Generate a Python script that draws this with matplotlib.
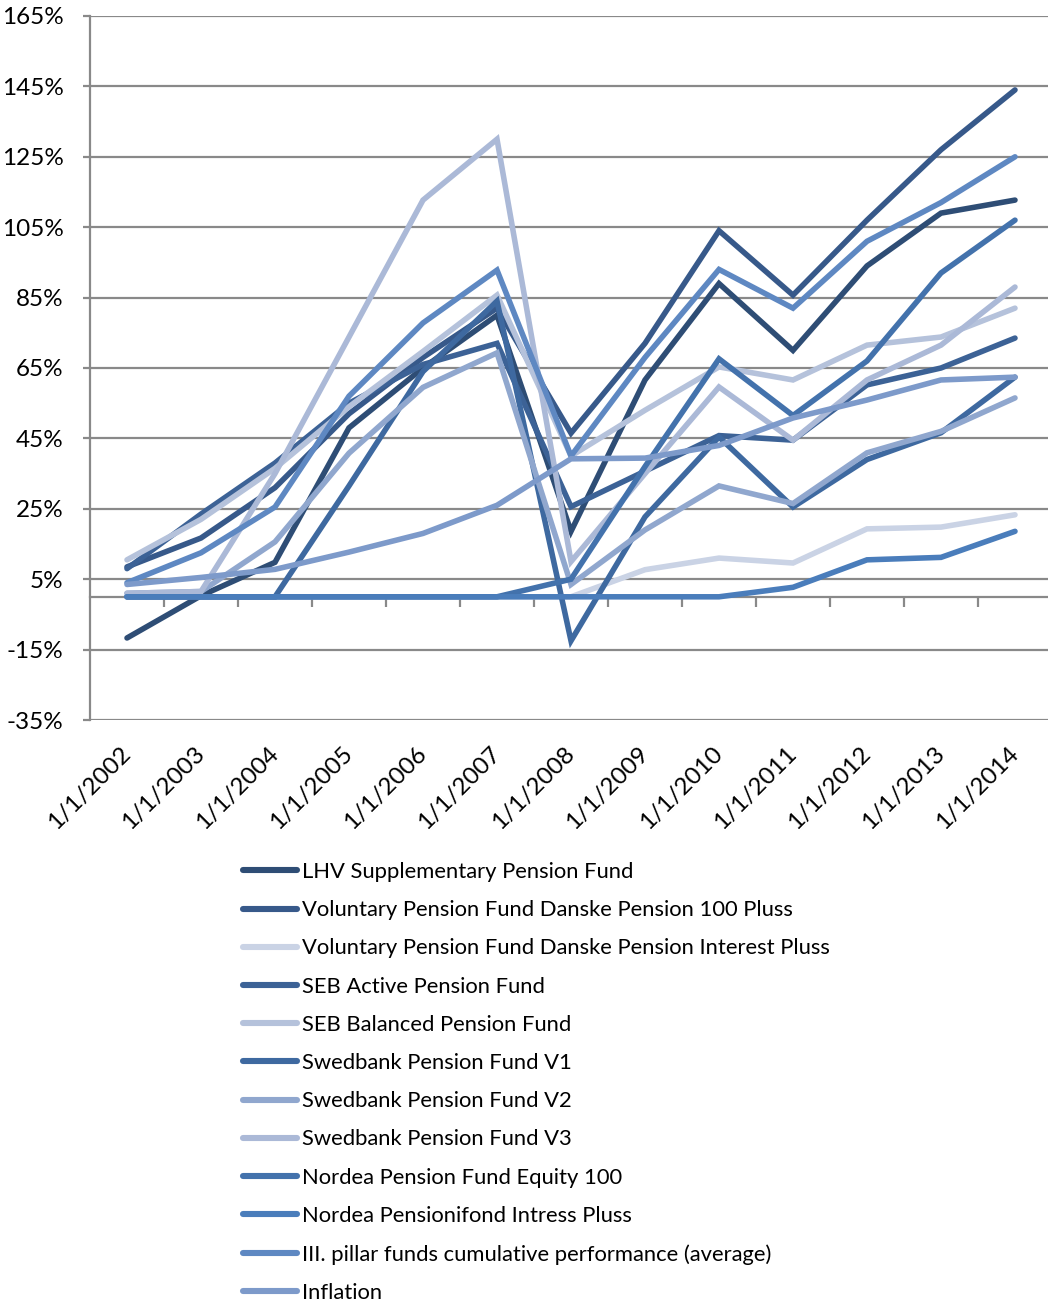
import matplotlib
matplotlib.use("Agg")
import matplotlib.pyplot as plt
from matplotlib.lines import Line2D

plt.rcParams['font.family'] = ['Lato', 'DejaVu Sans']

# Kategorien (Jahre)
jahre = ["1/1/2002", "1/1/2003", "1/1/2004", "1/1/2005", "1/1/2006", "1/1/2007", "1/1/2008",
         "1/1/2009", "1/1/2010", "1/1/2011", "1/1/2012", "1/1/2013", "1/1/2014"]

# Werte in Prozent
lhv = [-11.7, 0.3, 9.8, 48, 65, 80, 18.6, 61.6, 89, 70, 94, 109, 112.7]
danske_100 = [8.5, 16.7, 31, 52, 68, 82, 46.5, 72, 104, 85.7, 107, 127, 144]
danske_interest = [0, 0, 0, 0, 0, 0, 0, 7.7, 11, 9.6, 19.3, 19.8, 23.3]
seb_active = [8, 23.5, 38, 55, 66, 72, 25.6, 35.7, 45.8, 44.5, 60.2, 65, 73.5]
seb_balanced = [10.5, 22, 36.5, 54, 69.7, 85.7, 40, 53, 65.3, 61.6, 71.5, 73.8, 82]
swed_v1 = [0, 0, 0, 31.5, 64, 84, -12.5, 22.7, 45.4, 25.5, 39, 46.6, 62.4]
swed_v2 = [1, 1.5, 15.6, 40.8, 59.5, 69.3, 3.5, 19, 31.5, 26.5, 40.9, 47, 56.5]
swed_v3 = [1, 1.5, 35, 73.8, 112.7, 130, 10, 35, 59.6, 44.5, 61.6, 71.5, 88]
nordea_equity = [0, 0, 0, 0, 0, 0, 5, 37, 67.6, 51.5, 67, 92, 107]
nordea_intress = [0, 0, 0, 0, 0, 0, 0, 0, 0, 2.7, 10.5, 11.2, 18.6]
durchschnitt = [4, 12.5, 25.5, 57, 77.8, 92.8, 40, 68, 93, 82, 101, 112, 125]
inflation = [3.5, 5.5, 7.8, 12.7, 18, 26, 39.2, 39.4, 43, 50.8, 55.9, 61.6, 62.4]

namen = ["LHV Supplementary Pension Fund",
         "Voluntary Pension Fund Danske Pension 100 Pluss",
         "Voluntary Pension Fund Danske Pension Interest Pluss",
         "SEB Active Pension Fund",
         "SEB Balanced Pension Fund",
         "Swedbank Pension Fund V1",
         "Swedbank Pension Fund V2",
         "Swedbank Pension Fund V3",
         "Nordea Pension Fund Equity 100",
         "Nordea Pensionifond Intress Pluss",
         "III. pillar funds cumulative performance (average)",
         "Inflation"]
reihen = [lhv, danske_100, danske_interest, seb_active, seb_balanced, swed_v1,
          swed_v2, swed_v3, nordea_equity, nordea_intress, durchschnitt, inflation]
farben = ["#2E4D75", "#37598A", "#CAD3E5", "#3C6296", "#B5C2DB", "#3E69A0",
          "#90A7CE", "#ABB9D7", "#4372AC", "#4A7DBB", "#5E88C2", "#7D9ACA"]

y_ticks = list(range(-35, 166, 20))

fig = plt.figure(figsize=(10.48, 13.02), dpi=100)
ax = fig.add_axes([90 / 1048, 1 - 720 / 1302, (1052 - 90) / 1048, (720 - 16) / 1302])

x = list(range(len(jahre)))
for werte, farbe in zip(reihen, farben):
    ax.plot(x, werte, color=farbe, lw=4.0, solid_capstyle="round", solid_joinstyle="miter")

ax.set_xlim(-0.5, len(jahre) - 0.5)
ax.set_ylim(-35, 165)
ax.set_yticks(y_ticks)
ax.set_yticklabels([f"{v}%" for v in y_ticks], fontsize=17.5)
ax.grid(axis="y", color="#898989", lw=1.6)
ax.set_axisbelow(True)
for s in ["top", "right", "bottom"]:
    ax.spines[s].set_visible(False)
ax.spines["left"].set_color("#898989")
ax.spines["left"].set_linewidth(1.6)
ax.tick_params(axis="y", length=5, width=1.6, color="#898989", pad=14)

# Kategorie-Beschriftung unten, gedreht
ax.set_xticks(x)
ax.set_xticklabels(jahre, rotation=45, ha="right", va="center", rotation_mode="anchor", fontsize=17.5)
ax.tick_params(axis="x", length=0, pad=22)

# Kategorie-Achse bei 0 %
achse = ax.secondary_xaxis(35 / 200)
achse.set_xticks([i + 0.5 for i in range(len(jahre) - 1)])
achse.set_xticklabels([])
achse.tick_params(length=7, width=1.6, color="#898989", direction="out")
achse.spines["bottom"].set_color("#898989")
achse.spines["bottom"].set_linewidth(1.6)

# Legende unter dem Diagramm (letzte Zeile wird wie im Original am Rand abgeschnitten)
griffe = [Line2D([0], [0], color=f, lw=4.4, solid_capstyle="round") for f in farben]
fig.legend(griffe, namen, loc="upper left", bbox_to_anchor=(243 / 1048, 1 - 862 / 1302),
           frameon=False, fontsize=15.8, handlelength=2.46, handletextpad=0.23,
           labelspacing=0.83, borderpad=0, borderaxespad=0)

fig.savefig("out.png", dpi=100)
plt.close(fig)
